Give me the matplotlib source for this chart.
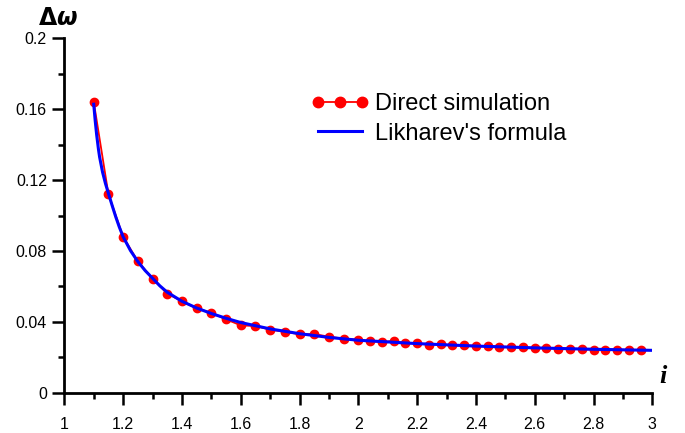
import matplotlib
matplotlib.use("Agg")
import matplotlib.pyplot as plt
from matplotlib.ticker import MultipleLocator, FuncFormatter

# Direct simulation results
sim_i = [1.10, 1.15, 1.20, 1.25, 1.30, 1.35, 1.40, 1.45, 1.50, 1.55, 1.60,
         1.65, 1.70, 1.75, 1.80, 1.85, 1.90, 1.95, 2.00,
         2.04, 2.08, 2.12, 2.16, 2.20, 2.24, 2.28, 2.32, 2.36, 2.40, 2.44,
         2.48, 2.52, 2.56, 2.60, 2.64, 2.68, 2.72, 2.76, 2.80, 2.84, 2.88,
         2.92, 2.96]
sim_dw = [0.1642, 0.1120, 0.0880, 0.0742, 0.0644, 0.0559, 0.0516, 0.0476,
          0.0451, 0.0414, 0.0380, 0.0376, 0.0356, 0.0343, 0.0330, 0.0331,
          0.0316, 0.0305, 0.0299,
          0.0290, 0.0286, 0.0292, 0.0279, 0.0279, 0.0271, 0.0272, 0.0268,
          0.0267, 0.0265, 0.0263, 0.0260, 0.0258, 0.0256, 0.0252, 0.0252,
          0.0248, 0.0248, 0.0246, 0.0243, 0.0243, 0.0243, 0.0241, 0.0241]

# Likharev's formula curve
lik_i = [1.100, 1.105, 1.110, 1.116, 1.120, 1.130, 1.140, 1.150, 1.162,
         1.175, 1.187, 1.200, 1.225, 1.250, 1.275, 1.300, 1.325, 1.350,
         1.40, 1.45, 1.50, 1.55, 1.60, 1.70, 1.80, 1.90, 2.00, 2.20,
         2.40, 2.60, 2.80, 3.00]
lik_dw = [0.1628, 0.1535, 0.1455, 0.1375, 0.1330, 0.1245, 0.1180, 0.1125,
          0.1060, 0.0992, 0.0935, 0.0880, 0.0802, 0.0740, 0.0689, 0.0646,
          0.0603, 0.0567, 0.0516, 0.0478, 0.0447, 0.0420, 0.0396, 0.0360,
          0.0333, 0.0312, 0.0296, 0.0277, 0.0263, 0.0253, 0.0245, 0.0239]

x_ticks = [1, 1.2, 1.4, 1.6, 1.8, 2, 2.2, 2.4, 2.6, 2.8, 3]
y_ticks = [0, 0.04, 0.08, 0.12, 0.16, 0.2]

plt.rcParams['font.family'] = ['Liberation Sans', 'DejaVu Sans']

fig = plt.figure(figsize=(6.85, 4.33), dpi=100)
ax = fig.add_axes([0.0939, 0.0931, 0.8584, 0.8184])

ax.plot(sim_i, sim_dw, color='#ff0000', lw=1.3, marker='o', ms=6.0,
        mec='#ff0000', mfc='#ff0000', label='Direct simulation', zorder=2)
ax.plot(lik_i, lik_dw, color='#0000ff', lw=2.2, label="Likharev's formula",
        zorder=3)

ax.set_xlim(1, 3)
ax.set_ylim(0, 0.2)
ax.set_xticks(x_ticks)
ax.set_yticks(y_ticks)
ax.xaxis.set_minor_locator(MultipleLocator(0.1))
ax.yaxis.set_minor_locator(MultipleLocator(0.02))

fmt = FuncFormatter(lambda v, p: ('%g' % round(v, 4)))
ax.xaxis.set_major_formatter(fmt)
ax.yaxis.set_major_formatter(fmt)

for side in ('top', 'right'):
    ax.spines[side].set_visible(False)
for side in ('left', 'bottom'):
    ax.spines[side].set_linewidth(2.0)
    ax.spines[side].set_color('black')
    ax.spines[side].set_capstyle('projecting')

ax.tick_params(axis='both', which='major', direction='out', length=8.5,
               width=1.8, labelsize=11.5, colors='black')
ax.tick_params(axis='both', which='minor', direction='out', length=4.3,
               width=1.8)
ax.tick_params(axis='y', which='major', pad=4)
ax.tick_params(axis='x', which='major', pad=9)

leg = ax.legend(loc='upper left', bbox_to_anchor=(311 / 685, 1 - 93 / 433),
                bbox_transform=fig.transFigure, frameon=False,
                fontsize=17, handlelength=2.45, handletextpad=0.25,
                labelspacing=0.32, borderpad=0, borderaxespad=0,
                numpoints=3, markerscale=1.25)

fig.text(38 / 685, 1 - 25 / 433, r'$\mathbf{\Delta}\boldsymbol{\omega}$',
         fontsize=17, ha='left', va='baseline')
fig.text(0.962, 0.105, 'i', fontsize=19, fontweight='bold', style='italic',
         family='Liberation Serif', ha='left', va='bottom')

fig.savefig('out.png', dpi=100)
